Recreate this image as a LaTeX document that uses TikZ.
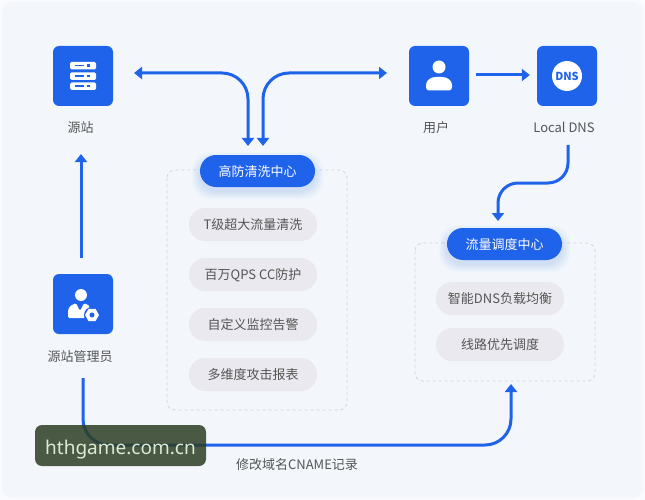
\documentclass[tikz,border=0pt]{standalone}
\usepackage{fontspec}
\setmainfont{Noto Sans CJK SC}
\newfontfamily\stampfont{Noto Sans}
\usetikzlibrary{arrows.meta,calc}
\definecolor{bgblue}{HTML}{F3F7FC}
\definecolor{rimblue}{HTML}{FAFBFE}
\definecolor{flowblue}{HTML}{1F63EA}
\definecolor{itemgray}{HTML}{EAE9EF}
\definecolor{dashgray}{HTML}{CFD2DC}
\definecolor{textgray}{HTML}{555555}
\definecolor{stampgreen}{HTML}{2D3E23}
\definecolor{stampgreentext}{HTML}{DDEBD5}
\tikzset{
  iconbox/.style={fill=flowblue, rounded corners=6pt, minimum width=60pt, minimum height=60pt, inner sep=0pt},
  caption/.style={text=textgray, font=\fontsize{13}{15}\selectfont, inner sep=0pt, text height=10pt, text depth=0pt},
  pill/.style={fill=flowblue, text=white, rounded corners=16pt, minimum width=115pt, minimum height=32pt, inner sep=0pt, font=\fontsize{13}{15}\selectfont, text height=10pt, text depth=0pt},
  item/.style={fill=itemgray, text=textgray, rounded corners=16pt, minimum width=128pt, minimum height=33pt, inner sep=0pt, font=\fontsize{13}{15}\selectfont, text height=10pt, text depth=0pt},
  dashbox/.style={draw=dashgray, dashed, rounded corners=8pt, line width=.8pt},
  flow/.style={draw=flowblue, line width=3pt, rounded corners=20pt, -{Triangle[length=8pt,width=12pt]}},
  flowboth/.style={flow, rounded corners=26pt, {Triangle[length=8pt,width=12pt]}-{Triangle[length=8pt,width=12pt]}},
}
\begin{document}
\begin{tikzpicture}[x=1pt,y=-1pt]
\useasboundingbox (0,0) rectangle (645,500);
\fill[rimblue] (0,0) rectangle (645,500);
\fill[bgblue, rounded corners=10pt] (2,2) rectangle (643,498);

% dashed frames
\draw[dashbox] (167,170) rectangle (347,410);
\draw[dashbox] (415,243) rectangle (595,381);

% glow under the pills
\foreach \g in {1,...,8} {
  \fill[flowblue, opacity=.02, rounded corners=18pt] (200-\g,156-\g+4) rectangle (315+\g,187+\g+4);
  \fill[flowblue, opacity=.02, rounded corners=18pt] (447-\g,229-\g+4) rectangle (562+\g,260+\g+4);
}

% icon boxes
\node[iconbox] (srcbox) at (83,76) {};
\node[iconbox] (userbox) at (439,76) {};
\node[iconbox] (dnsbox) at (567,76) {};
\node[iconbox] (adminbox) at (83,304) {};
\node[caption] (srcname) at (80.5,127) {源站};
\node[caption] (username) at (436,127) {用户};
\node[caption] (dnsname) at (564,127) {Local DNS};
\node[caption] (adminname) at (80,356) {源站管理员};

% server icon
\foreach \y in {66,76.5,86.5} {
  \fill[white, rounded corners=1.5pt] (70,\y-4) rectangle (96,\y+3.5);
  \fill[flowblue] (75,\y-1) rectangle (84,\y+.5);
  \fill[flowblue] (87,\y-1.5) rectangle (90,\y+1);
}
% user icon
\fill[white] (439,67) circle (6.5);
\fill[white] (426,87) -- (426,85) .. controls (426,80) and (431,77) .. (436,77) -- (442,77) .. controls (447,77) and (452,80) .. (452,85) -- (452,87) .. controls (452,89) and (451,90.5) .. (449,90.5) -- (429,90.5) .. controls (427,90.5) and (426,89) .. (426,87) -- cycle;
% dns icon
\fill[white] (567,76) circle (15);
\node[text=flowblue, font=\fontsize{11}{12}\selectfont\bfseries, inner sep=0pt] (dnsmark) at (567,76) {DNS};
% admin icon
\fill[white] (81,295) circle (6);
\fill[white, rounded corners=1.5pt] (68,318) -- (68,310) -- (70,306) -- (76,303) -- (80,311) -- (84,303) -- (90,306) -- (85,318) -- cycle;
\fill[flowblue] (92,315) circle (8);
\fill[white] (92,315) +(0:7) -- +(60:7) -- +(120:7) -- +(180:7) -- +(240:7) -- +(300:7) -- cycle;
\fill[flowblue] (92,315) circle (2.5);

% pills and their items
\node[pill] (cleanpill) at (257.5,171) {高防清洗中心};
\node[pill] (routepill) at (504.5,244) {流量调度中心};
\node[item] (cleanA) at (253,224.5) {T级超大流量清洗};
\node[item] (cleanB) at (253,274.5) {百万QPS CC防护};
\node[item] (cleanC) at (253,324.5) {自定义监控告警};
\node[item] (cleanD) at (253,374.5) {多维度攻击报表};
\node[item] (routeA) at (500,298.5) {智能DNS负载均衡};
\node[item] (routeB) at (500,344.5) {线路优先调度};

% connectors
\coordinate (srctip) at (134,73);
\coordinate (usertip) at (387,73);
\coordinate (dnsbend) at (568,183);
\draw[flowboth] (srctip) -- (248,73) -- (248,146);
\draw[flowboth] (usertip) -- (263,73) -- (263,146);
\draw[flow, shorten >=7pt, shorten <=7pt] (userbox.east |- 0,75) -- (dnsbox.west |- 0,75);
\draw[flow] (81,258) -- (81,154);
\draw[flow] (568,145) -- (dnsbend) -- (498,183) -- (498,221);
\draw[flow, rounded corners=26pt] (83,378) -- (83,445) -- (511,445) -- (511,384);

% bottom caption and watermark
\node[caption] (cnamenote) at (297,464) {修改域名CNAME记录};
\node[fill=stampgreen, fill opacity=.85, text opacity=1, text=stampgreentext, rounded corners=7pt, minimum width=171pt, minimum height=41pt, inner sep=0pt, font=\stampfont\fontsize{19}{22}\selectfont, text height=17pt, text depth=0pt] (stamp) at (120.5,445.5) {hthgame.com.cn};
\end{tikzpicture}
\end{document}
